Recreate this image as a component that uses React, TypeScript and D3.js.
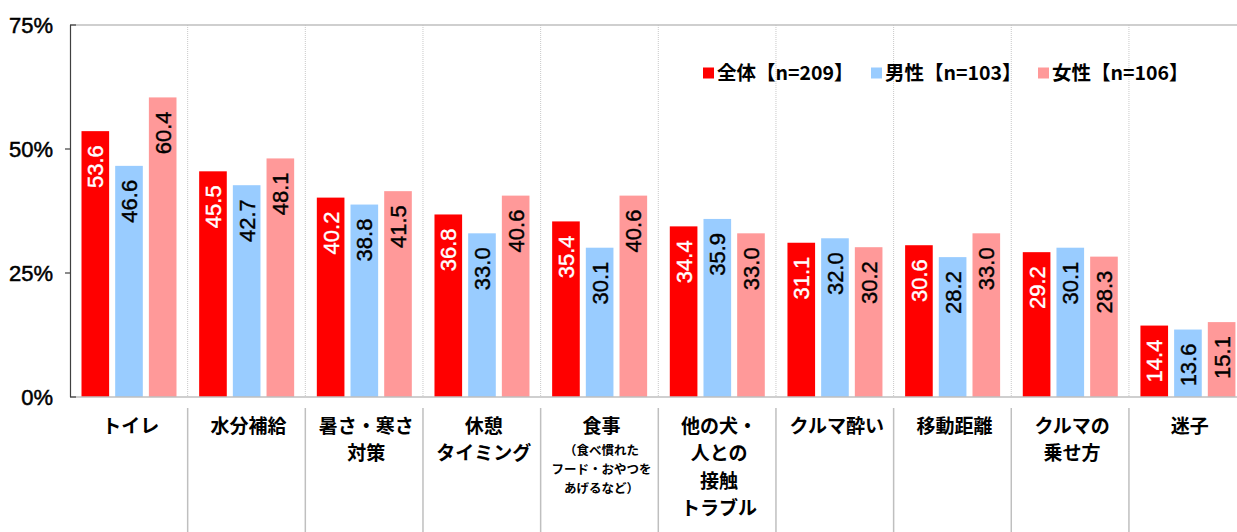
import React from "react";
import * as d3 from "d3";

const categories: string[][] = [
  ["トイレ"],
  ["水分補給"],
  ["暑さ・寒さ", "対策"],
  ["休憩", "タイミング"],
  ["食事"],
  ["他の犬・", "人との", "接触", "トラブル"],
  ["クルマ酔い"],
  ["移動距離"],
  ["クルマの", "乗せ方"],
  ["迷子"],
];
const foodSub = ["（食べ慣れた", "フード・おやつを", "あげるなど）"];
const seriesNames = ["全体【n=209】", "男性【n=103】", "女性【n=106】"];
const seriesColors = ["#FF0000", "#99CCFF", "#FF9999"];
const labelColors = ["#FFFFFF", "#000000", "#000000"];
const total = [53.6, 45.5, 40.2, 36.8, 35.4, 34.4, 31.1, 30.6, 29.2, 14.4];
const male = [46.6, 42.7, 38.8, 33.0, 30.1, 35.9, 32.0, 28.2, 30.1, 13.6];
const female = [60.4, 48.1, 41.5, 40.6, 40.6, 33.0, 30.2, 33.0, 28.3, 15.1];
const yTicks = [0, 25, 50, 75];

const W = 1237;
const H = 532;
const left = 70;
const top = 25;
const bottom = 397;
const bandW = 117.66;

const JP = "'Noto Sans CJK JP', 'Noto Sans', sans-serif";
const NUM = "'Liberation Sans', Arial, sans-serif";

export default function App() {
  const keys = categories.map((_, i) => String(i));
  const x = d3
    .scaleBand<string>()
    .domain(keys)
    .range([left, left + bandW * keys.length])
    .paddingInner(0)
    .paddingOuter(0);
  const xi = d3
    .scaleBand<string>()
    .domain(["0", "1", "2"])
    .range([11.5, 106.5])
    .paddingInner(0.18);
  const y = d3.scaleLinear().domain([0, 75]).range([bottom, top]);
  const series = [total, male, female];

  return (
    <svg
      width={W}
      height={H}
      style={{ position: "absolute", left: 0, top: 0, background: "#fff" }}
    >
      {keys.slice(1).map((k) => (
        <line
          key={"g" + k}
          x1={x(k)!}
          x2={x(k)!}
          y1={top}
          y2={bottom}
          stroke="#C8C8C8"
          strokeWidth={1}
          strokeDasharray="1,1"
        />
      ))}
      {keys.slice(1).map((k) => (
        <line
          key={"d" + k}
          x1={x(k)!}
          x2={x(k)!}
          y1={408}
          y2={H}
          stroke="#BFBFBF"
          strokeWidth={1.5}
        />
      ))}
      <line x1={left} x2={W} y1={y(75)} y2={y(75)} stroke="#BFBFBF" strokeWidth={1.5} />
      {series.map((vals, s) =>
        vals.map((v, i) => (
          <rect
            key={`b${s}-${i}`}
            x={x(String(i))! + xi(String(s))!}
            y={y(v)}
            width={xi.bandwidth()}
            height={bottom - y(v)}
            fill={seriesColors[s]}
          />
        ))
      )}
      {series.map((vals, s) =>
        vals.map((v, i) => {
          const cx = x(String(i))! + xi(String(s))! + xi.bandwidth() / 2;
          const ty = y(v) + 14;
          return (
            <text
              key={`t${s}-${i}`}
              transform={`translate(${cx},${ty}) rotate(-90)`}
              textAnchor="end"
              dy="0.36em"
              fontFamily={NUM}
              fontSize={22}
              fill={labelColors[s]}
              stroke={labelColors[s]}
              strokeWidth={0.4}
            >
              {v.toFixed(1)}
            </text>
          );
        })
      )}
      <line x1={left} x2={W} y1={bottom} y2={bottom} stroke="#BFBFBF" strokeWidth={1.5} />
      <line x1={left + 0.5} x2={left + 0.5} y1={top} y2={bottom} stroke="#404040" strokeWidth={1.2} />
      {yTicks.map((t) => (
        <g key={"yt" + t}>
          {t !== 0 && t !== 75 && (
            <line x1={left - 5} x2={left} y1={y(t)} y2={y(t)} stroke="#404040" strokeWidth={1.2} />
          )}
          {(t === 0 || t === 75) && (
            <line x1={left} x2={left + 6} y1={y(t)} y2={y(t)} stroke="#404040" strokeWidth={1.2} />
          )}
          <text
            x={53}
            y={y(t)}
            dy="0.36em"
            textAnchor="end"
            fontFamily={NUM}
            fontSize={22}
            fill="#000"
            stroke="#000"
            strokeWidth={0.5}
          >
            {t}%
          </text>
        </g>
      ))}
      {categories.map((lines, i) => {
        const cx = x(String(i))! + bandW / 2 + 2;
        return (
          <g key={"c" + i}>
            {lines.map((ln, j) => (
              <text
                key={j}
                x={cx}
                y={426 + j * 27.5}
                dy="0.36em"
                textAnchor="middle"
                fontFamily={JP}
                fontWeight={700}
                fontSize={19}
                fill="#000"
              >
                {ln}
              </text>
            ))}
            {i === 4 &&
              foodSub.map((ln, j) => (
                <text
                  key={"s" + j}
                  x={cx}
                  y={450 + j * 19}
                  dy="0.36em"
                  textAnchor="middle"
                  fontFamily={JP}
                  fontWeight={700}
                  fontSize={12.5}
                  fill="#000"
                >
                  {ln}
                </text>
              ))}
          </g>
        );
      })}
      {seriesNames.map((n, s) => {
        const lx = [703, 871, 1038][s];
        return (
          <g key={"l" + s}>
            <rect x={lx} y={67.5} width={11} height={11} fill={seriesColors[s]} />
            <text
              x={lx + 14}
              y={73}
              dy="0.36em"
              fontFamily={JP}
              fontWeight={700}
              fontSize={19.5}
              fill="#000"
            >
              {n}
            </text>
          </g>
        );
      })}
    </svg>
  );
}
